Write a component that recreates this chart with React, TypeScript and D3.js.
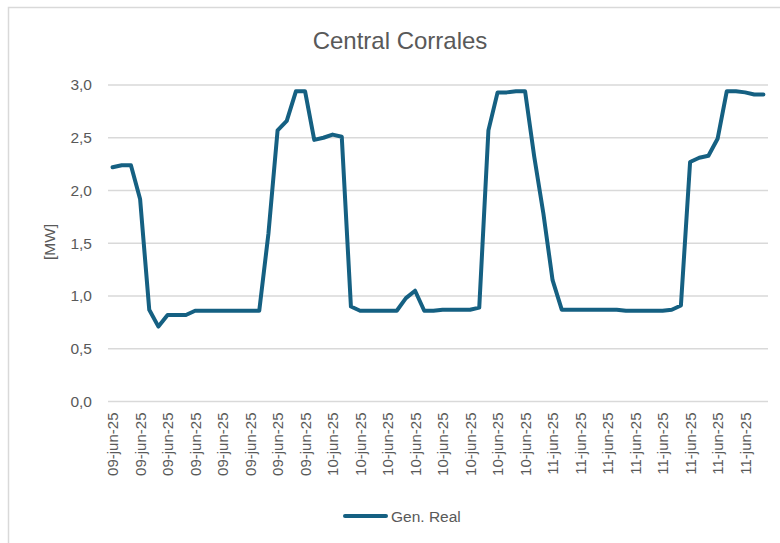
import * as d3 from "d3";
import { useEffect, useRef } from "react";

// 72 hourly readings, 09-jun-25 00:00 .. 11-jun-25 23:00
const days = ["09-jun-25", "10-jun-25", "11-jun-25"];
const hours = d3.range(24);

const genReal = [
  2.22, 2.24, 2.24, 1.92, 0.87, 0.71, 0.82, 0.82, 0.82, 0.86, 0.86, 0.86,
  0.86, 0.86, 0.86, 0.86, 0.86, 1.59, 2.57, 2.66, 2.94, 2.94, 2.48, 2.50,
  2.53, 2.51, 0.90, 0.86, 0.86, 0.86, 0.86, 0.86, 0.98, 1.05, 0.86, 0.86,
  0.87, 0.87, 0.87, 0.87, 0.89, 2.57, 2.93, 2.93, 2.94, 2.94, 2.32, 1.78,
  1.15, 0.87, 0.87, 0.87, 0.87, 0.87, 0.87, 0.87, 0.86, 0.86, 0.86, 0.86,
  0.86, 0.87, 0.91, 2.27, 2.31, 2.33, 2.49, 2.94, 2.94, 2.93, 2.91, 2.91
];

const yTicks = [0, 0.5, 1, 1.5, 2, 2.5, 3];

const categories: { key: string, day: string }[] = days.flatMap(day =>
  hours.map(h => ({ key: `${day} ${h}`, day })));

const width = 780;
const height = 543;
const marginLeft = 108;
const marginRight = 12;
const marginTop = 85;
const zeroY = 401.5;
const lineColor = "#156082";
const textColor = "#595959";
const font = "'Liberation Sans', Arial, sans-serif";

export default function App() {
  const axisx: any = useRef();
  const axisy: any = useRef();

  const x: any = d3.scalePoint(categories.map(c => c.key), [marginLeft, width - marginRight])
    .padding(0.5);
  const y: any = d3.scaleLinear([0, 3], [zeroY, marginTop]);

  const line = d3.line<number>()
    .x((_, i) => x(categories[i].key))
    .y(d => y(d));

  useEffect(() => {
    const fmt = d3.format(".1f");
    d3.select(axisy.current)
      .call(d3.axisLeft(y).tickValues(yTicks).tickSize(0).tickPadding(16)
        .tickFormat((d: any) => fmt(d).replace(".", ",")))
      .call(g => g.select(".domain").remove())
      .call(g => g.selectAll(".tick text")
        .attr("fill", textColor)
        .style("font", `15.5px ${font}`));

    const shown = categories.filter((_, i) => i % 3 === 0).map(c => c.key);
    const dayOf = new Map(categories.map(c => [c.key, c.day]));
    d3.select(axisx.current)
      .call(d3.axisBottom(x).tickValues(shown).tickSize(0)
        .tickFormat((d: any) => dayOf.get(d) as string))
      .call(g => g.select(".domain").remove())
      .call(g => g.selectAll(".tick text")
        .attr("fill", textColor)
        .style("font", `15px ${font}`)
        .attr("text-anchor", "end")
        .attr("transform", "rotate(-90)")
        .attr("x", -11)
        .attr("y", 0)
        .attr("dy", "0.36em"));
  }, [x, y]);

  return (
    <svg width={width} height={height}
      style={{ position: "absolute", left: 0, top: 0, background: "#fff" }}>
      <rect x={8.5} y={7.5} width={width + 20} height={height + 20}
        fill="#fff" stroke="#d9d9d9" strokeWidth={1.5} />
      <text x={400} y={49} textAnchor="middle" fill={textColor}
        style={{ font: `24px ${font}` }}>Central Corrales</text>
      <g stroke="#d9d9d9" strokeWidth={1.3}>
        {yTicks.map(t => (
          <line key={t} x1={marginLeft} x2={width - marginRight} y1={y(t)} y2={y(t)} />
        ))}
      </g>
      <g ref={axisy} transform={`translate(${marginLeft}, 0)`} />
      <g ref={axisx} transform={`translate(0, ${zeroY})`} />
      <text transform={`translate(55, 242) rotate(-90)`} textAnchor="middle"
        fill={textColor} style={{ font: `15.5px ${font}` }}>[MW]</text>
      <path d={line(genReal) as string} fill="none" stroke={lineColor}
        strokeWidth={4} strokeLinejoin="round" strokeLinecap="round" />
      <line x1={345} x2={386} y1={516} y2={516} stroke={lineColor}
        strokeWidth={4} strokeLinecap="round" />
      <text x={391} y={521.5} fill={textColor} style={{ font: `15.5px ${font}` }}>Gen. Real</text>
    </svg>
  );
}
